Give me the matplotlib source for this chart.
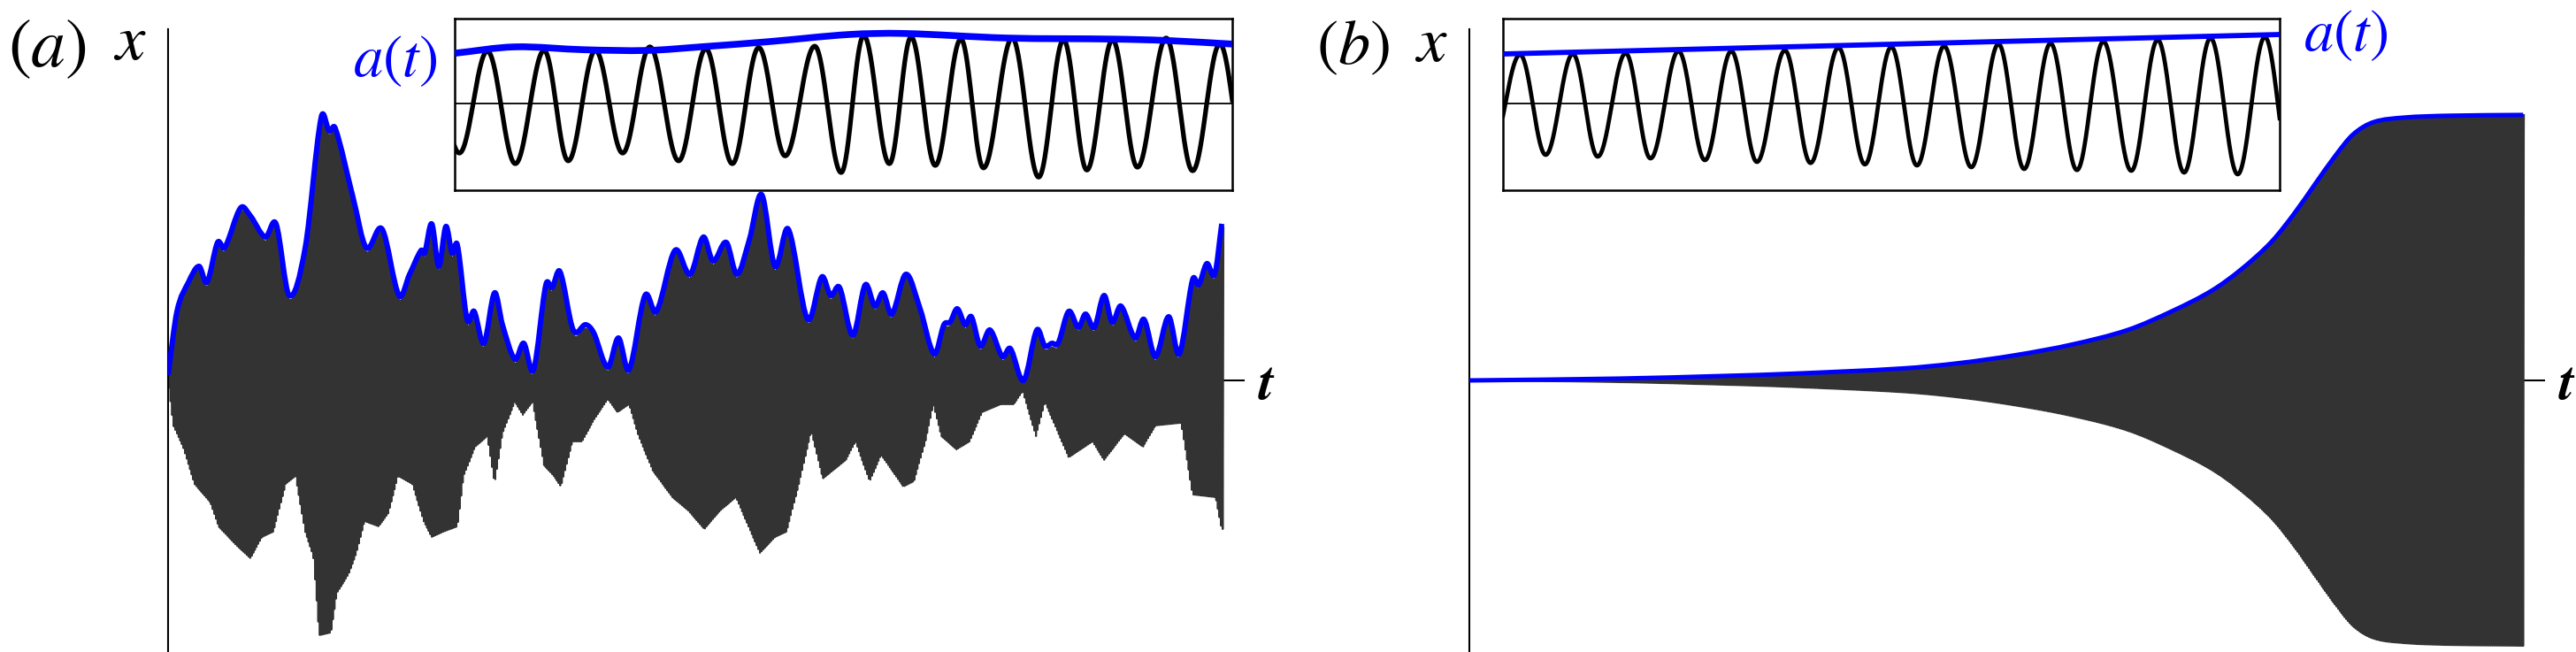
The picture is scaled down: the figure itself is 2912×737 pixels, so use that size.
import matplotlib
matplotlib.use('Agg')
import matplotlib.pyplot as plt
from matplotlib.path import Path
from matplotlib.patches import PathPatch
import numpy as np

plt.rcParams['mathtext.fontset'] = 'stix'

W, H = 2912, 737

# ---- panel (a): main signal, envelope a(t) (upper) and lower spike tips ----
a_env_t = [0.0, 0.84, 1.93, 2.93, 3.69, 4.69, 5.36, 6.87, 7.80, 9.22, 10.23, 11.48, 12.99, 14.50,
           15.26, 15.84, 17.52, 18.78, 20.28, 21.88, 22.88, 23.97, 24.31, 24.98, 25.65, 26.32,
           26.91, 27.41, 28.33, 29.00, 29.92, 30.93, 31.68, 32.86, 33.70, 34.62, 35.79, 36.38,
           37.13, 38.39, 39.56, 40.32, 41.66, 42.67, 43.67, 45.18, 46.27, 48.03, 49.46, 50.71,
           51.63, 52.89, 53.90, 55.07, 56.24, 57.50, 58.76, 60.60, 61.94, 62.78, 63.62, 64.88,
           66.05, 66.97, 67.73, 68.57, 69.91, 71.25, 72.59, 73.51, 74.10, 74.77, 75.52, 76.11,
           76.95, 77.87, 79.05, 79.80, 81.06, 82.31, 83.07, 83.74, 84.33, 85.33, 86.25, 86.92,
           87.76, 88.68, 89.44, 90.28, 91.62, 92.46, 93.55, 94.80, 95.81, 97.07, 97.65, 98.41,
           99.16, 99.83]
a_env_y = [0.02, 0.26, 0.37, 0.43, 0.37, 0.52, 0.50, 0.65, 0.62, 0.54, 0.59, 0.32, 0.50, 0.99,
           0.94, 0.95, 0.69, 0.50, 0.57, 0.32, 0.40, 0.49, 0.48, 0.59, 0.43, 0.58,
           0.48, 0.51, 0.23, 0.26, 0.14, 0.33, 0.21, 0.08, 0.14, 0.04, 0.36, 0.35,
           0.41, 0.19, 0.21, 0.18, 0.05, 0.16, 0.04, 0.32, 0.26, 0.49, 0.40, 0.54,
           0.45, 0.52, 0.40, 0.53, 0.70, 0.43, 0.57, 0.23, 0.39, 0.32, 0.35, 0.17,
           0.36, 0.28, 0.33, 0.25, 0.40, 0.27, 0.10, 0.21, 0.22, 0.27, 0.21, 0.24,
           0.13, 0.19, 0.09, 0.12, 0.00, 0.19, 0.13, 0.14, 0.14, 0.26, 0.20, 0.25,
           0.20, 0.32, 0.22, 0.28, 0.16, 0.23, 0.09, 0.24, 0.10, 0.38, 0.36, 0.44,
           0.40, 0.59]

a_low_t = [0.0, 0.50, 1.42, 2.51, 4.02, 4.78, 6.45, 7.80, 8.89, 9.97, 11.15, 12.07, 12.99, 13.75,
           14.33, 15.42, 16.01, 17.10, 17.85, 18.61, 19.95, 20.87, 21.79, 23.14, 24.22, 24.98,
           26.07, 27.41, 28.00, 29.09, 30.26, 30.93, 31.68, 32.86, 33.61, 34.53, 35.62, 36.55,
           37.22, 38.31, 39.23, 40.32, 41.66, 42.58, 43.67, 44.59, 45.93, 47.78, 49.29, 50.80,
           52.31, 53.81, 55.32, 56.08, 57.50, 58.59, 59.77, 60.94, 62.03, 64.21, 65.13, 66.47,
           67.56, 69.66, 70.66, 71.75, 72.51, 73.26, 74.69, 75.94, 77.12, 78.88, 80.13, 80.97,
           82.23, 83.07, 85.33, 87.59, 88.68, 90.61, 92.37, 93.55, 95.98, 97.07, 99.25, 99.83]
a_low_y = [0.0, -0.17, -0.25, -0.39, -0.46, -0.55, -0.62, -0.67, -0.59, -0.57, -0.39, -0.36, -0.57, -0.66,
           -0.96, -0.95, -0.80, -0.73, -0.65, -0.53, -0.55, -0.50, -0.36, -0.39, -0.53, -0.59,
           -0.57, -0.55, -0.36, -0.25, -0.21, -0.39, -0.20, -0.08, -0.13, -0.08, -0.32, -0.36,
           -0.40, -0.23, -0.23, -0.15, -0.07, -0.12, -0.09, -0.21, -0.34, -0.44, -0.49, -0.56,
           -0.49, -0.44, -0.58, -0.65, -0.59, -0.57, -0.39, -0.19, -0.37, -0.30, -0.23, -0.38,
           -0.28, -0.40, -0.38, -0.23, -0.09, -0.21, -0.26, -0.23, -0.12, -0.09, -0.09, -0.04,
           -0.21, -0.08, -0.29, -0.23, -0.30, -0.20, -0.25, -0.17, -0.16, -0.43, -0.44, -0.56]

# ---- panel (b): growing envelope a(t) ----
b_env_t = [0.0, 14.26, 24.2, 30.37, 41.02, 46.39, 51.76, 57.13, 62.42, 66.69, 70.39, 73.15, 76.01,
           78.19, 80.20, 82.13, 83.81, 85.74, 88.59, 92.79, 99.92]
b_env_y = [0.0, 0.007, 0.017, 0.025, 0.045, 0.065, 0.095, 0.135, 0.19, 0.262, 0.338, 0.417, 0.52,
           0.627, 0.74, 0.847, 0.927, 0.973, 0.99, 0.997, 1.0]

n_cycles = 650  # fast oscillation in the main panels

# ---- inset (a): extremes of the zoomed oscillation and its envelope ----
ia_ext_t = [-0.03, 0.006, 0.042, 0.078, 0.115, 0.146, 0.181, 0.216, 0.251, 0.288, 0.323, 0.357,
            0.391, 0.425, 0.463, 0.497, 0.526, 0.559, 0.587, 0.618, 0.651, 0.680, 0.717, 0.751,
            0.783, 0.813, 0.846, 0.878, 0.915, 0.949, 0.984, 1.018]
ia_ext_y = [0.70, -0.70, 0.74, -0.85, 0.75, -0.81, 0.75, -0.70, 0.80, -0.81, 0.775, -0.85,
            0.79, -0.74, 0.81, -0.975, 0.96, -0.85, 0.94, -0.875, 0.91, -0.91, 0.925, -1.04,
            0.90, -0.94, 0.90, -0.90, 0.925, -0.95, 0.84, -0.90]
ia_env_t = [0.0, 0.077, 0.166, 0.248, 0.316, 0.405, 0.507, 0.576, 0.711, 0.848, 0.916, 1.0]
ia_env_y = [0.71, 0.80, 0.76, 0.75, 0.80, 0.875, 0.975, 0.99, 0.925, 0.91, 0.89, 0.84]

# ---- inset (b) ----
ib_ext_t = [-0.016, 0.022, 0.055, 0.090, 0.122, 0.158, 0.190, 0.226, 0.260, 0.294, 0.327, 0.363,
            0.396, 0.432, 0.466, 0.500, 0.533, 0.568, 0.603, 0.638, 0.671, 0.705, 0.739, 0.773,
            0.809, 0.843, 0.877, 0.911, 0.946, 0.981, 1.015]
ib_ext_y = [-0.70, 0.69, -0.725, 0.70, -0.75, 0.71, -0.775, 0.74, -0.80, 0.74, -0.825, 0.75,
            -0.84, 0.79, -0.86, 0.80, -0.875, 0.81, -0.90, 0.84, -0.925, 0.85, -0.94, 0.875,
            -0.95, 0.90, -0.975, 0.925, -1.0, 0.94, -1.0]
ib_env_t = [0.0, 1.0]
ib_env_y = [0.70, 0.975]

DARK = '#333333'
BLUE = '#0000ff'


def px_rect(x0, y0, x1, y1):
    return [x0 / W, 1 - y1 / H, (x1 - x0) / W, (y1 - y0) / H]


def slopes(x, y):
    x = np.asarray(x, float)
    y = np.asarray(y, float)
    m = np.zeros_like(y)
    m[1:-1] = (y[2:] - y[:-2]) / (x[2:] - x[:-2])
    m[0] = (y[1] - y[0]) / (x[1] - x[0])
    m[-1] = (y[-1] - y[-2]) / (x[-1] - x[-2])
    return x, y, m


def smooth_eval(xk, yk, t):
    # cubic Hermite through the read points (Catmull-Rom slopes)
    x, y, m = slopes(xk, yk)
    i = np.clip(np.searchsorted(x, t) - 1, 0, len(x) - 2)
    h = x[i + 1] - x[i]
    s = np.clip((t - x[i]) / h, 0, 1)
    h00 = 2 * s**3 - 3 * s**2 + 1
    h10 = s**3 - 2 * s**2 + s
    h01 = -2 * s**3 + 3 * s**2
    h11 = s**3 - s**2
    return h00 * y[i] + h10 * h * m[i] + h01 * y[i + 1] + h11 * h * m[i + 1]


def smooth_path(xk, yk):
    # same curve as smooth_eval, as Bezier segments
    x, y, m = slopes(xk, yk)
    verts = [(x[0], y[0])]
    codes = [Path.MOVETO]
    for i in range(len(x) - 1):
        h = x[i + 1] - x[i]
        verts += [(x[i] + h / 3, y[i] + m[i] * h / 3),
                  (x[i + 1] - h / 3, y[i + 1] - m[i + 1] * h / 3),
                  (x[i + 1], y[i + 1])]
        codes += [Path.CURVE4] * 3
    return Path(verts, codes)


def wave(t_ext, y_ext, t):
    t_ext = np.asarray(t_ext)
    y_ext = np.asarray(y_ext)
    i = np.clip(np.searchsorted(t_ext, t) - 1, 0, len(t_ext) - 2)
    s = (t - t_ext[i]) / (t_ext[i + 1] - t_ext[i])
    return y_ext[i] + (y_ext[i + 1] - y_ext[i]) * (1 - np.cos(np.pi * s)) / 2


def main_axes(rect):
    ax = fig.add_axes(rect)
    ax.set_xlim(0, 102.0)
    ax.set_ylim(-1.023, 1.323)
    for s in ['top', 'right', 'bottom']:
        ax.spines[s].set_visible(False)
    ax.spines['left'].set_linewidth(1.5)
    ax.set_xticks([])
    ax.set_yticks([])
    ax.patch.set_alpha(0)
    ax.plot([0, 102.0], [0, 0], color='k', lw=1.5, zorder=1)
    ax.text(103.3, -0.025, 't', fontsize=44, fontfamily='STIXGeneral', style='italic',
            weight='bold', ha='left', va='center', clip_on=False)
    return ax


def inset_axes(rect):
    ax = fig.add_axes(rect)
    ax.set_xlim(0, 1)
    ax.set_ylim(-1.225, 1.2)
    ax.set_xticks([])
    ax.set_yticks([])
    for s in ax.spines.values():
        s.set_linewidth(1.8)
    ax.axhline(0, color='k', lw=1.3, zorder=1)
    return ax


fig = plt.figure(figsize=(W / 100, H / 100), dpi=100)

t = np.linspace(0, 100, n_cycles * 16 + 1)
carrier = np.cos(2 * np.pi * n_cycles * t / 100)

# panel (a)
ax_a = main_axes(px_rect(190, 33, 1407, 737))
up = smooth_eval(a_env_t, a_env_y, t) - 0.015
lo = np.interp(t, a_low_t, a_low_y)
sig_a = np.where(carrier >= 0, carrier * up, -carrier * lo)
ax_a.plot(t, sig_a, color=DARK, lw=1.5, zorder=2)
ax_a.add_patch(PathPatch(smooth_path(a_env_t, a_env_y), fill=False, edgecolor=BLUE,
                         lw=4.3, zorder=3, joinstyle='round'))

# panel (b)
ax_b = main_axes(px_rect(1661, 33, 2877, 737))
env_b = smooth_eval(b_env_t, b_env_y, t)
ax_b.plot(t, env_b * carrier, color=DARK, lw=1.5, zorder=2)
ax_b.add_patch(PathPatch(smooth_path(b_env_t, b_env_y), fill=False, edgecolor=BLUE,
                         lw=3.6, zorder=3))

# insets
ti = np.linspace(0, 1, 3000)
ins_a = inset_axes(px_rect(514, 21, 1393, 215))
ins_a.plot(ti, wave(ia_ext_t, ia_ext_y, ti), color='k', lw=3.8, zorder=2)
ins_a.add_patch(PathPatch(smooth_path(ia_env_t, ia_env_y), fill=False, edgecolor=BLUE,
                          lw=5.5, zorder=3))

ins_b = inset_axes(px_rect(1699, 21, 2577, 215))
ins_b.plot(ti, wave(ib_ext_t, ib_ext_y, ti), color='k', lw=3.4, zorder=2)
ins_b.plot(ib_env_t, ib_env_y, color=BLUE, lw=4.2, zorder=3)

# labels
fig.text(53 / W, 1 - 53 / H, r'$(a)$', fontsize=56, ha='center', va='center')
fig.text(147 / W, 1 - 48 / H, r'$x$', fontsize=54, ha='center', va='center')
fig.text(447 / W, 1 - 67 / H, r'$a(t)$', fontsize=48, color=BLUE, ha='center', va='center')
fig.text(1529 / W, 1 - 53 / H, r'$(b)$', fontsize=52, ha='center', va='center')
fig.text(1618 / W, 1 - 49 / H, r'$x$', fontsize=54, ha='center', va='center')
fig.text(2652 / W, 1 - 38 / H, r'$a(t)$', fontsize=48, color=BLUE, ha='center', va='center')

fig.savefig('out.png', dpi=100)
